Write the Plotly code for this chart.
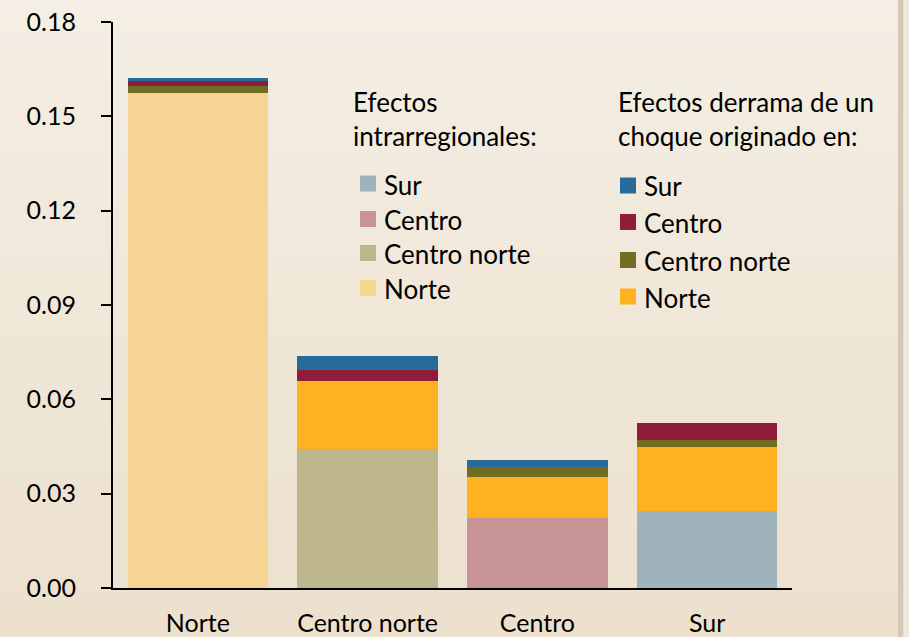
import plotly.graph_objects as go

categories = ["Norte", "Centro norte", "Centro", "Sur"]

# Efectos intrarregionales (own-region effect)
intra_norte = [0.1574, None, None, None]
intra_centro_norte = [None, 0.0442, None, None]
intra_centro = [None, None, 0.0223, None]
intra_sur = [None, None, None, 0.0245]

# Efectos derrama de un choque originado en:
spill_norte = [None, 0.0216, 0.0130, 0.0204]
spill_centro_norte = [0.0022, None, 0.0032, 0.0022]
spill_centro = [0.0015, 0.0035, None, 0.0054]
spill_sur = [0.0010, 0.0045, 0.0022, None]

series_names = ["Norte", "Centro norte", "Centro", "Sur"]
intra_colors = ["#F6D494", "#BDB68C", "#C89396", "#A0B2BB"]
spill_colors = ["#FFB121", "#716D22", "#8F1D3A", "#266B9A"]

legend1_title = "Efectos<br>intrarregionales:"
legend2_title = "Efectos derrama de un<br>choque originado en:"

y_ticks = [0.00, 0.03, 0.06, 0.09, 0.12, 0.15, 0.18]

FONT = "Lato"
FS = 26

# plot-area geometry in pixels (for converting decoration positions)
L, R, T, B = 113, 792, 22, 588
W, H = R - L, B - T


def px(x):
    return (x - L) / W


def py(y):
    return (B - y) / H


fig = go.Figure()

intra_vals = [intra_norte, intra_centro_norte, intra_centro, intra_sur]
spill_vals = [spill_norte, spill_centro_norte, spill_centro, spill_sur]

for name, vals, col in zip(series_names, intra_vals, intra_colors):
    fig.add_trace(go.Bar(x=categories, y=vals, name="Intra " + name,
                         marker_color=col, marker_line_width=0, showlegend=False))
for name, vals, col in zip(series_names, spill_vals, spill_colors):
    fig.add_trace(go.Bar(x=categories, y=vals, name="Derrama " + name,
                         marker_color=col, marker_line_width=0, showlegend=False))

# background gradient
top = (244, 238, 228)
bot = (236, 224, 205)
n = 40
shapes = []
for i in range(n):
    t = i / (n - 1)
    c = tuple(round(top[k] + (bot[k] - top[k]) * t) for k in range(3))
    y_top = 0 + 637 * i / n
    y_bot = 0 + 637 * (i + 1) / n
    shapes.append(dict(type="rect", xref="paper", yref="paper",
                       x0=px(0), x1=px(898), y0=py(y_bot) - 0.002, y1=py(y_top) + 0.002,
                       line_width=0, fillcolor="rgb(%d,%d,%d)" % c, layer="below"))
shapes.append(dict(type="rect", xref="paper", yref="paper",
                   x0=px(898), x1=px(903.5), y0=py(637), y1=py(0),
                   line_width=0, fillcolor="#D6C7B4", layer="below"))
shapes.append(dict(type="rect", xref="paper", yref="paper",
                   x0=px(903.5), x1=px(909), y0=py(637), y1=py(0),
                   line_width=0, fillcolor="#EFE7DC", layer="below"))

annotations = []


def add_legend(title, x_title, y_title_top, x_sw, ys, names, colors):
    annotations.append(dict(text=title, xref="paper", yref="paper",
                            x=px(x_title), y=py(y_title_top), xanchor="left", yanchor="top",
                            showarrow=False, align="left",
                            font=dict(family=FONT, size=FS, color="#000")))
    for yc, nm, col in zip(ys, names, colors):
        shapes.append(dict(type="rect", xref="paper", yref="paper",
                           x0=px(x_sw), x1=px(x_sw + 16), y0=py(yc + 8), y1=py(yc - 8),
                           line_width=0, fillcolor=col))
        annotations.append(dict(text=nm, xref="paper", yref="paper",
                                x=px(x_sw + 22), y=py(yc + 1), xanchor="left", yanchor="middle",
                                showarrow=False,
                                font=dict(family=FONT, size=FS, color="#000")))


rev_names = series_names[::-1]
add_legend(legend1_title, 351, 84, 360, [183.5, 219, 253, 288],
           rev_names, intra_colors[::-1])
add_legend(legend2_title, 616, 84, 620, [185.5, 222, 260, 296.5],
           rev_names, spill_colors[::-1])

fig.update_layout(
    width=909, height=637,
    margin=dict(l=L, r=909 - R, t=T, b=637 - B, autoexpand=False),
    paper_bgcolor="#F0E6D8",
    plot_bgcolor="rgba(0,0,0,0)",
    barmode="stack",
    bargap=0.173,
    shapes=shapes,
    annotations=annotations,
    showlegend=False,
    font=dict(family=FONT, color="#000"),
    xaxis=dict(showline=True, linecolor="#000", linewidth=2, ticks="",
               tickfont=dict(family=FONT, size=25, color="#000"),
               ticklabelstandoff=12, showgrid=False, automargin=False),
    yaxis=dict(range=[0, 0.18], tickvals=y_ticks, tickformat=".2f",
               showline=True, linecolor="#000", linewidth=2,
               ticks="outside", ticklen=10, tickwidth=2, tickcolor="#000",
               tickfont=dict(family=FONT, size=25, color="#000"),
               showgrid=False, zeroline=False, ticklabelstandoff=20,
               automargin=False),
)

fig.write_html("out.html", config={"displayModeBar": False},
               post_script="document.body.style.margin='0px';")
